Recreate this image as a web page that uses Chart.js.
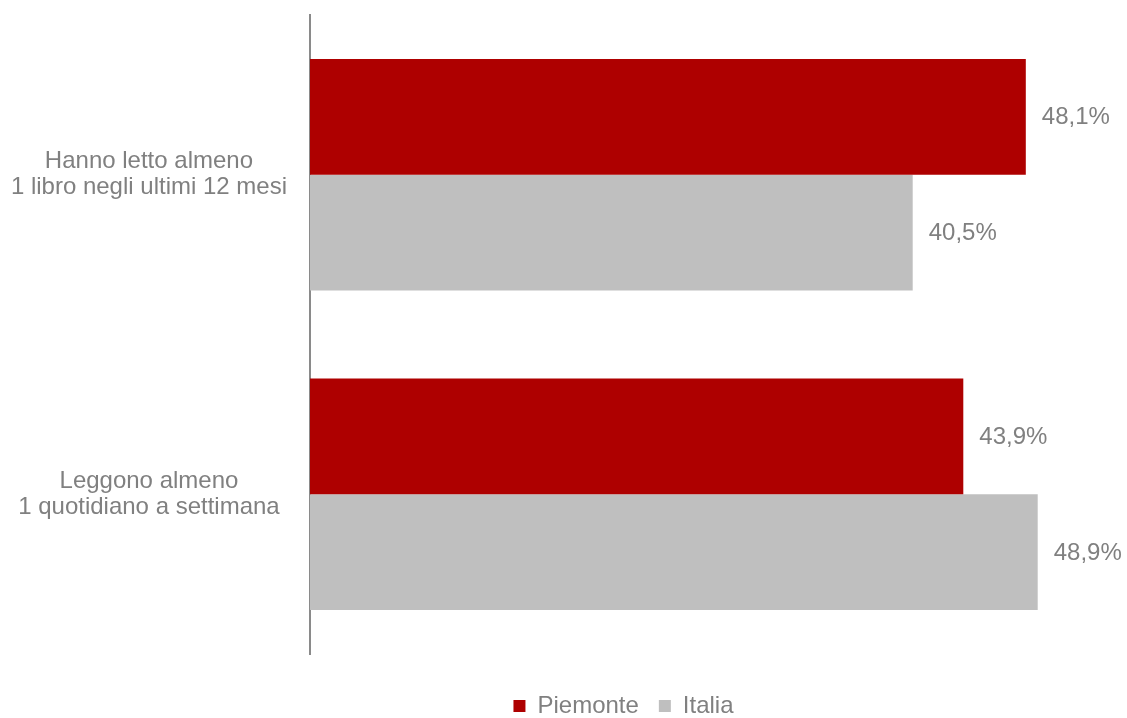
<!DOCTYPE html>
<html>
<head>
<meta charset="utf-8">
<script src="https://cdn.jsdelivr.net/npm/chart.js@4/dist/chart.umd.min.js"></script>
<style>
  html, body { margin: 0; padding: 0; background: #ffffff; }
  #wrap { width: 1127px; height: 718px; position: relative; }
</style>
</head>
<body>
<div id="wrap"><canvas id="c" width="1127" height="718"></canvas></div>
<script>
const categories = [
  ['Hanno letto almeno', '1 libro negli ultimi 12 mesi'],
  ['Leggono almeno', '1 quotidiano a settimana']
];
const seriesNames = ['Piemonte', 'Italia'];
const piemonte = [48.1, 43.9];
const italia = [40.5, 48.9];
const seriesColors = ['#AE0000', '#BFBFBF'];
const textColor = '#808080';
const fontFamily = '"Liberation Sans", Arial, sans-serif';

const valueLabels = {
  id: 'valueLabels',
  afterDatasetsDraw(chart) {
    const ctx = chart.ctx;
    ctx.save();
    ctx.font = '24px ' + fontFamily;
    ctx.fillStyle = textColor;
    ctx.textAlign = 'left';
    ctx.textBaseline = 'middle';
    chart.data.datasets.forEach((ds, i) => {
      const meta = chart.getDatasetMeta(i);
      meta.data.forEach((el, j) => {
        const v = ds.data[j];
        const txt = v.toFixed(1).replace('.', ',') + '%';
        ctx.fillText(txt, el.x + 16, el.y + 1);
      });
    });
    ctx.restore();
  }
};

const legendShift = {
  id: 'legendShift',
  afterLayout(chart) {
    if (chart.legend) {
      chart.legend.left += 60;
      chart.legend.right += 60;
    }
  }
};

new Chart(document.getElementById('c'), {
  type: 'bar',
  data: {
    labels: categories,
    datasets: [
      { label: seriesNames[0], data: piemonte, backgroundColor: seriesColors[0], borderWidth: 0 },
      { label: seriesNames[1], data: italia, backgroundColor: seriesColors[1], borderWidth: 0 }
    ]
  },
  options: {
    indexAxis: 'y',
    responsive: false,
    animation: false,
    devicePixelRatio: 1,
    layout: { padding: { top: 15, right: 0, bottom: -10, left: 0 } },
    datasets: {
      bar: { categoryPercentage: 0.725, barPercentage: 1.0 }
    },
    scales: {
      x: {
        min: 0,
        max: 54.9,
        display: true,
        grid: { display: false, drawTicks: false },
        border: { display: false },
        ticks: { display: false },
        afterFit(s) { s.height = 20; s.paddingLeft = 0; s.paddingRight = 0; }
      },
      y: {
        grid: { display: false, drawTicks: false },
        border: { display: true, color: '#8a8a8a', width: 2 },
        ticks: {
          color: textColor,
          font: { family: fontFamily, size: 24, lineHeight: 1.08 },
          padding: 23,
          crossAlign: 'center'
        },
        afterFit(s) { s.width = 310; s.paddingTop = 0; s.paddingBottom = 0; }
      }
    },
    plugins: {
      legend: {
        position: 'bottom',
        align: 'center',
        labels: {
          color: textColor,
          font: { family: fontFamily, size: 24 },
          boxWidth: 12,
          boxHeight: 12,
          padding: 20
        }
      },
      tooltip: { enabled: false }
    }
  },
  plugins: [valueLabels, legendShift]
});
</script>
</body>
</html>
